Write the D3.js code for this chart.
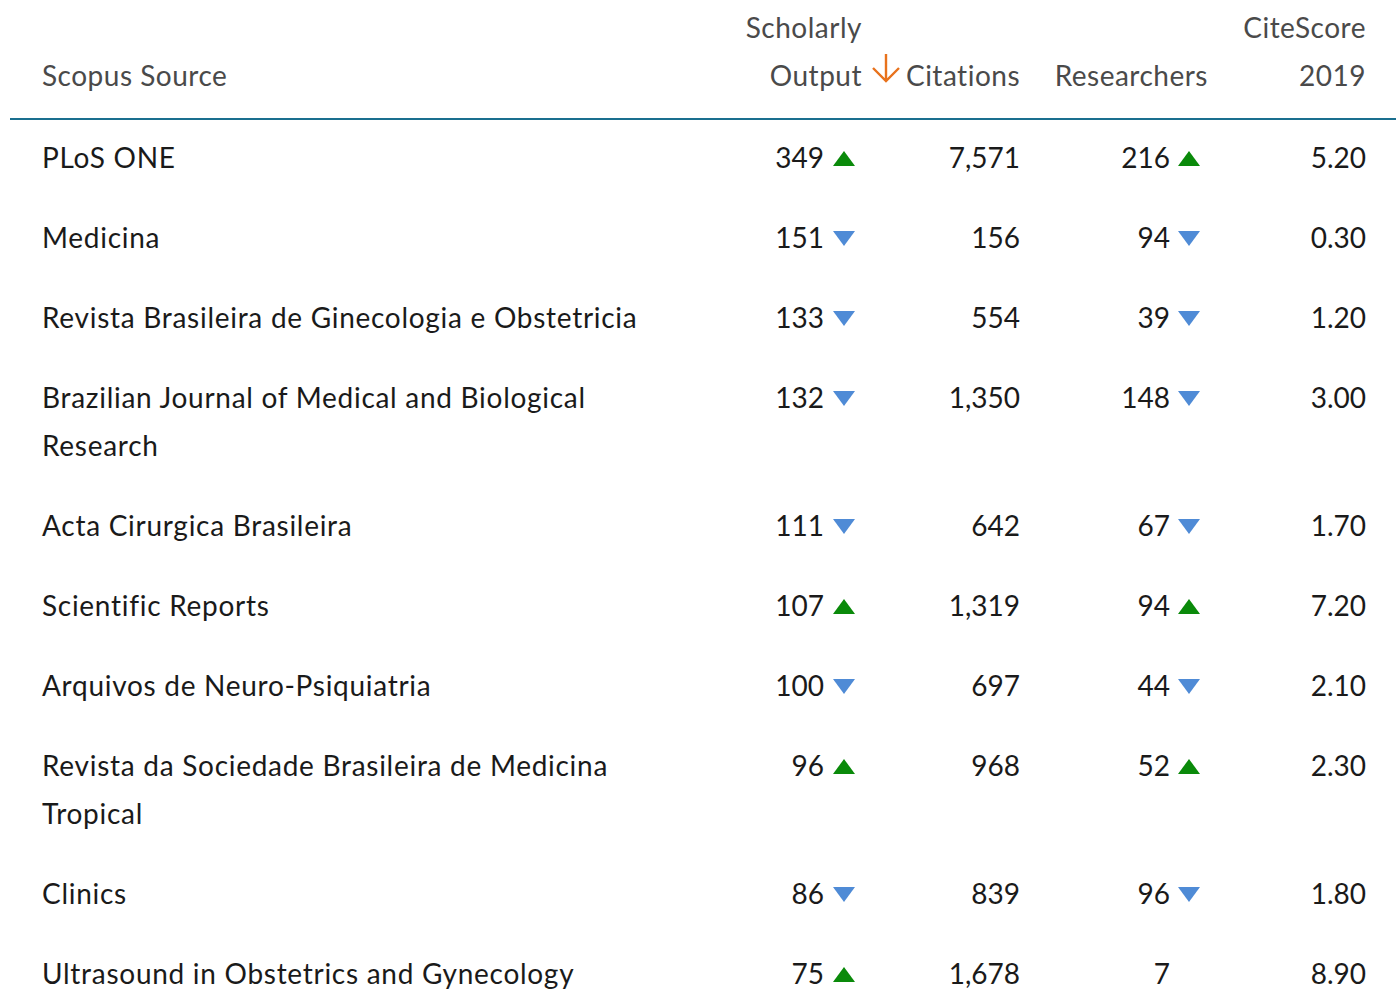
<!DOCTYPE html>
<html><head><meta charset="utf-8">
<script src="https://cdn.jsdelivr.net/npm/d3@7"></script>
<style>body{margin:0;background:#fff}svg{display:block}</style>
</head><body>
<svg id="c" width="1396" height="992"></svg>
<script>
const sources = ["PLoS ONE","Medicina","Revista Brasileira de Ginecologia e Obstetricia","Brazilian Journal of Medical and Biological Research","Acta Cirurgica Brasileira","Scientific Reports","Arquivos de Neuro-Psiquiatria","Revista da Sociedade Brasileira de Medicina Tropical","Clinics","Ultrasound in Obstetrics and Gynecology"];
const scholarlyOutput = [349,151,133,132,111,107,100,96,86,75];
const outputTrend = ["up","down","down","down","down","up","down","up","down","up"];
const citations = [7571,156,554,1350,642,1319,697,968,839,1678];
const researchers = [216,94,39,148,67,94,44,52,96,7];
const researcherTrend = ["up","down","down","down","down","up","down","up","down",null];
const citeScore = [5.20,0.30,1.20,3.00,1.70,7.20,2.10,2.30,1.80,8.90];
const headers = [["Scopus Source"],["Scholarly","Output"],["Citations"],["Researchers"],["CiteScore","2019"]];

const FONT = "Lato, 'Noto Sans', sans-serif";
const FS = 28, LH = 48, PAD = 16, LS = 0.72;
const svg = d3.select("#c");
const fmt = d3.format(",");
const fmt2 = d3.format(".2f");

const meas = svg.append("text").attr("font-family",FONT).attr("font-size",FS).attr("letter-spacing",LS).attr("opacity",0);
function w(t){meas.text(t);return meas.node().getComputedTextLength();}
function wrap(t,max){const words=t.split(" ");const lines=[];let cur="";words.forEach(wd=>{const tr=cur?cur+" "+wd:wd;if(w(tr)>max&&cur){lines.push(cur);cur=wd;}else cur=tr;});lines.push(cur);return lines;}

const colX = {name:42, out:824, outTri:844, cit:1020, res:1170, resTri:1189, cs:1366};
const headerRight = [null, 862, 1020, 1208, 1366];

const hdr = svg.append("g").attr("font-family",FONT).attr("font-size",FS).attr("fill","#4a4a4a").attr("letter-spacing",0.5);
headers.forEach((lines,i)=>{
  const n=lines.length;
  lines.forEach((l,j)=>{
    const cy = 76 - (n-1-j)*LH;
    hdr.append("text").attr("x", i===0?colX.name:headerRight[i]).attr("y",cy).attr("dy","0.36em")
      .attr("text-anchor", i===0?"start":"end").text(l);
  });
});
const ax=886;
svg.append("path").attr("d",`M${ax},54 L${ax},81 M${ax-13},68 L${ax},81 L${ax+13},68`)
  .attr("fill","none").attr("stroke","#e8721c").attr("stroke-width",2.4);

svg.append("line").attr("x1",10).attr("x2",1396).attr("y1",119).attr("y2",119)
  .attr("stroke","#1a6f8f").attr("stroke-width",2);

const rows = sources.map((s,i)=>({name:s,lines:wrap(s,640),out:scholarlyOutput[i],ot:outputTrend[i],cit:citations[i],res:researchers[i],rt:researcherTrend[i],cs:citeScore[i]}));
let y=120;
rows.forEach(r=>{r.y=y; r.cy=y+PAD+LH/2-2; y+=r.lines.length*LH+2*PAD;});

const body = svg.append("g").attr("font-family",FONT).attr("font-size",FS).attr("fill","#1a1a1a");
const g = body.selectAll("g.row").data(rows).join("g").attr("class","row");
g.each(function(r){
  const gg=d3.select(this);
  r.lines.forEach((l,j)=>gg.append("text").attr("x",colX.name).attr("y",r.cy+j*LH).attr("dy","0.36em").attr("letter-spacing",LS).text(l));
  gg.append("text").attr("x",colX.out).attr("y",r.cy).attr("dy","0.36em").attr("text-anchor","end").text(r.out);
  gg.append("text").attr("x",colX.cit).attr("y",r.cy).attr("dy","0.36em").attr("text-anchor","end").text(fmt(r.cit));
  gg.append("text").attr("x",colX.res).attr("y",r.cy).attr("dy","0.36em").attr("text-anchor","end").text(r.res);
  gg.append("text").attr("x",colX.cs).attr("y",r.cy).attr("dy","0.36em").attr("text-anchor","end").text(fmt2(r.cs));
  function tri(x,t){
    if(!t) return;
    if(t==="up") gg.append("path").attr("d",`M${x-11},${r.cy+8} L${x+11},${r.cy+8} L${x},${r.cy-7} Z`).attr("fill","#0a8a0a");
    else gg.append("path").attr("d",`M${x-11},${r.cy-7} L${x+11},${r.cy-7} L${x},${r.cy+8} Z`).attr("fill","#4f8bd6");
  }
  tri(colX.outTri,r.ot); tri(colX.resTri,r.rt);
});
meas.remove();
</script>
</body></html>
